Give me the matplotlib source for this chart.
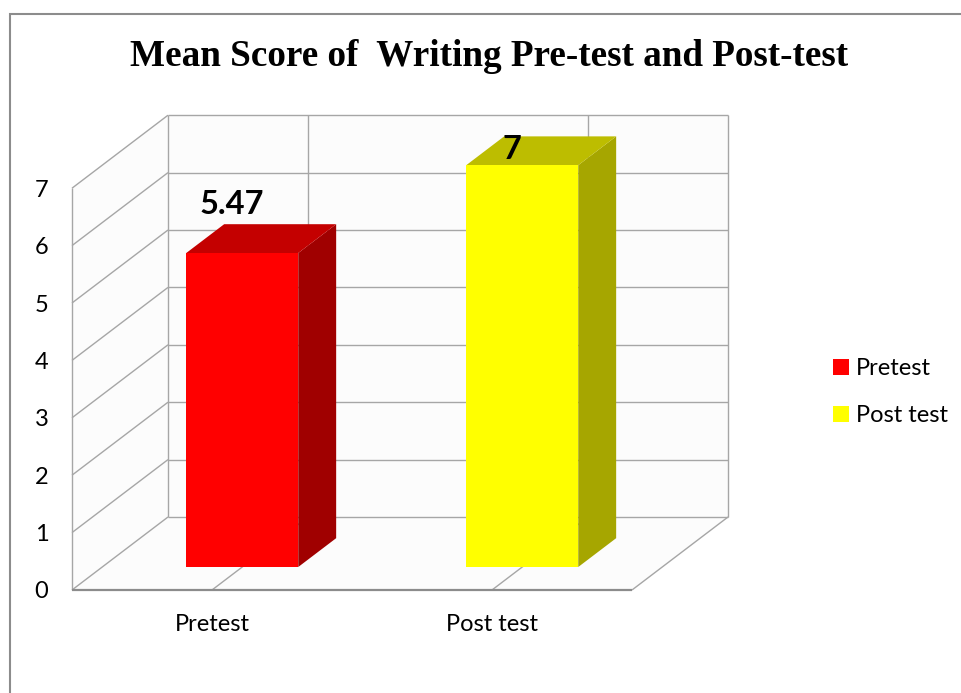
import numpy as np
import matplotlib
matplotlib.use('Agg')
import matplotlib.pyplot as plt
from matplotlib.patches import Polygon, Patch, Rectangle

# chart data
categories = ['Pretest', 'Post test']
mean_scores = [5.47, 7]
bar_labels = ['5.47', '7']
y_ticks = [0, 1, 2, 3, 4, 5, 6, 7]

# styling
front_colors = ['#FF0000', '#FFFF00']
top_colors = ['#C40000', '#BDBD00']
side_colors = ['#A00000', '#A6A600']
label_dy = [1.25, 0.68]
grid_color = '#A6A6A6'

# oblique "3d" projection in data units
DX = 96 / 280.0
DY = 73 / 57.4
Z0, Z1 = 0.315, 0.71
BAR_W = 0.40
X0, X1 = -0.5, 1.5
YMAX = 7

UI_FONT = 'Lato'


def proj(x, y, z):
    return x + z * DX, y + z * DY


def line3(ax, p, q, color=grid_color, lw=1.0, z=1):
    a = proj(*p)
    b = proj(*q)
    ax.plot([a[0], b[0]], [a[1], b[1]], color=color, lw=lw, zorder=z,
            clip_on=False, solid_capstyle='butt')


def poly3(ax, pts, color, z):
    ax.add_patch(Polygon([proj(*p) for p in pts], closed=True, facecolor=color,
                         edgecolor='none', zorder=z, clip_on=False))


def main():
    fig = plt.figure(figsize=(9.62, 6.93), dpi=100)
    fig.patch.set_facecolor('white')

    # outer border
    fig.patches.append(Rectangle((10 / 962, -0.1), 1.1, 1 - 14 / 693 + 0.1,
                                 transform=fig.transFigure, fill=False,
                                 edgecolor='#8C8C8C', lw=1.5))

    ax = fig.add_axes([72 / 962, 103 / 693, 560 / 962, 7 * 57.4 / 693])
    ax.set_xlim(X0, X1)
    ax.set_ylim(0, YMAX)
    ax.patch.set_alpha(0)
    for s in ax.spines.values():
        s.set_visible(False)

    # walls and floor
    wall = '#FCFCFC'
    poly3(ax, [(X0, 0, 1), (X1, 0, 1), (X1, YMAX, 1), (X0, YMAX, 1)], wall, 0)
    poly3(ax, [(X0, 0, 0), (X0, 0, 1), (X0, YMAX, 1), (X0, YMAX, 0)], wall, 0)
    poly3(ax, [(X0, 0, 0), (X1, 0, 0), (X1, 0, 1), (X0, 0, 1)], wall, 0)

    for k in y_ticks:
        line3(ax, (X0, k, 1), (X1, k, 1))
        line3(ax, (X0, k, 0), (X0, k, 1))
    line3(ax, (X0, 0, 0), (X0, YMAX, 0))
    line3(ax, (X0, 0, 1), (X0, YMAX, 1))
    line3(ax, (X1, 0, 1), (X1, YMAX, 1))
    line3(ax, (X1, 0, 0), (X1, 0, 1))
    for i in range(len(categories)):
        line3(ax, (i, 0, 1), (i, YMAX, 1))
        line3(ax, (i, 0, 0), (i, 0, 1))
    line3(ax, (X0, 0, 0), (X1, 0, 0), color='#8C8C8C', lw=1.6, z=2)

    # bars
    for i, v in enumerate(mean_scores):
        l, r = i - BAR_W / 2, i + BAR_W / 2
        poly3(ax, [(r, 0, Z0), (r, v, Z0), (r, v, Z1), (r, 0, Z1)], side_colors[i], 3)
        poly3(ax, [(l, v, Z0), (r, v, Z0), (r, v, Z1), (l, v, Z1)], top_colors[i], 3)
        poly3(ax, [(l, 0, Z0), (r, 0, Z0), (r, v, Z0), (l, v, Z0)], front_colors[i], 4)
        ax.text(i + 0.07, v + label_dy[i], bar_labels[i], ha='center', va='center',
                fontsize=23.5, fontweight='bold', family=UI_FONT, color='black', zorder=6)

    ax.set_yticks(y_ticks)
    ax.set_yticklabels([str(t) for t in y_ticks])
    ax.set_xticks(range(len(categories)))
    ax.set_xticklabels(categories)
    ax.tick_params(axis='both', length=0, labelsize=17)
    ax.tick_params(axis='y', pad=17)
    ax.tick_params(axis='x', pad=17)
    for t in ax.get_xticklabels() + ax.get_yticklabels():
        t.set_family(UI_FONT)

    handles = [Patch(facecolor=c, edgecolor='none') for c in front_colors]
    fig.legend(handles, categories, loc='center left',
               bbox_to_anchor=(812 / 962, 1 - 392 / 693), frameon=False,
               prop={'family': UI_FONT, 'size': 17}, handlelength=0.65,
               handleheight=0.65, handletextpad=0.3, labelspacing=1.1)

    fig.text(489 / 962, 1 - 57 / 693, 'Mean Score of  Writing Pre-test and Post-test',
             ha='center', va='center', fontsize=26.7, fontweight='bold',
             family='Liberation Serif')

    fig.savefig('out.png', dpi=100)
    plt.close(fig)


if __name__ == '__main__':
    main()
